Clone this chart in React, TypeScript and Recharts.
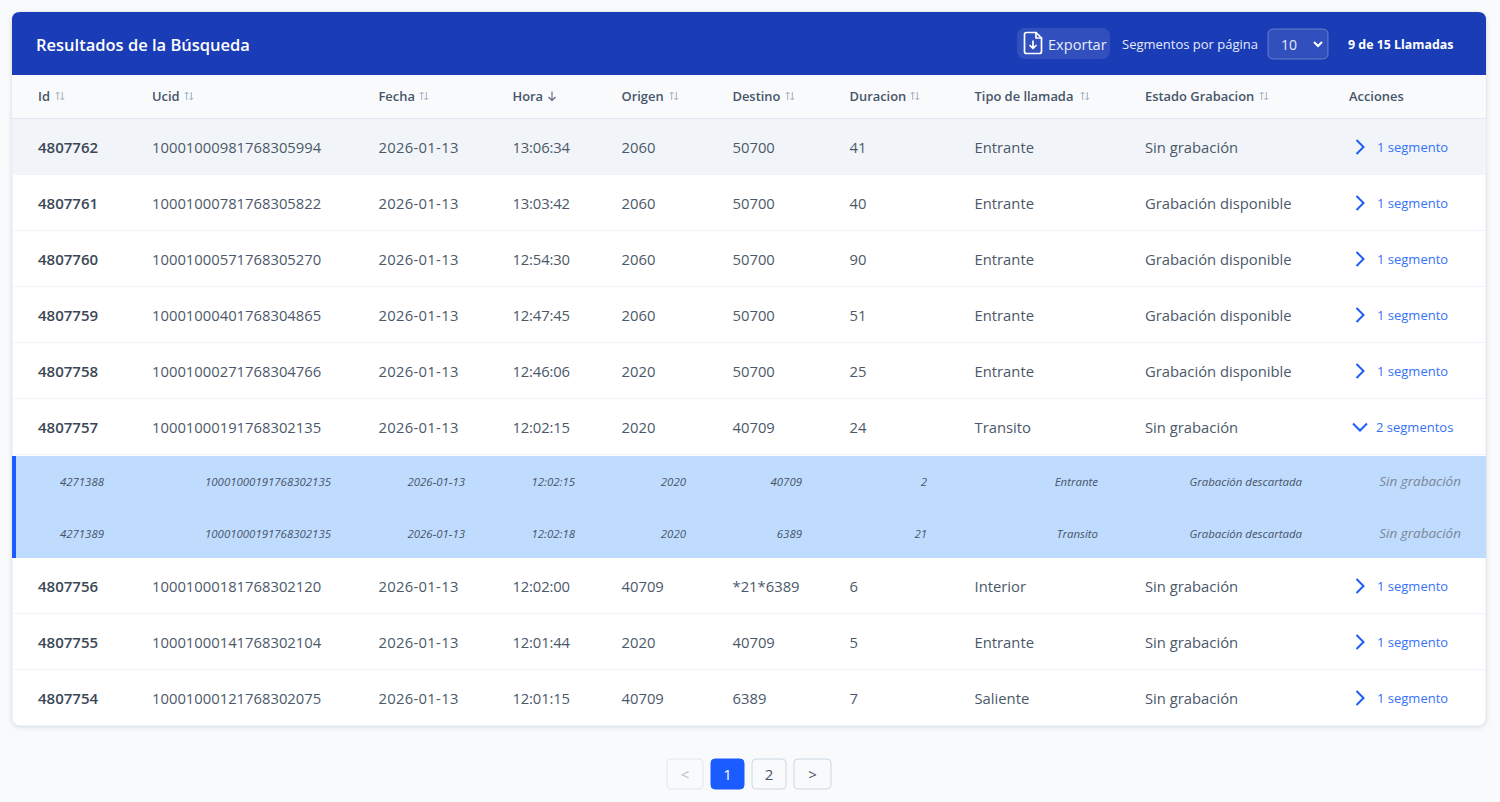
import React from "react";
import { ScatterChart, Scatter, XAxis, YAxis, ReferenceArea } from "recharts";

// ---- table content ----
const columnTitles = ["Id", "Ucid", "Fecha", "Hora", "Origen", "Destino", "Duracion", "Tipo de llamada", "Estado Grabacion", "Acciones"];
const ids = ["4807762", "4807761", "4807760", "4807759", "4807758", "4807757", "4807756", "4807755", "4807754"];
const ucids = ["10001000981768305994", "10001000781768305822", "10001000571768305270", "10001000401768304865", "10001000271768304766", "10001000191768302135", "10001000181768302120", "10001000141768302104", "10001000121768302075"];
const fechas = ["2026-01-13", "2026-01-13", "2026-01-13", "2026-01-13", "2026-01-13", "2026-01-13", "2026-01-13", "2026-01-13", "2026-01-13"];
const horas = ["13:06:34", "13:03:42", "12:54:30", "12:47:45", "12:46:06", "12:02:15", "12:02:00", "12:01:44", "12:01:15"];
const origenes = ["2060", "2060", "2060", "2060", "2020", "2020", "40709", "2020", "40709"];
const destinos = ["50700", "50700", "50700", "50700", "50700", "40709", "*21*6389", "40709", "6389"];
const duraciones = ["41", "40", "90", "51", "25", "24", "6", "5", "7"];
const tipos = ["Entrante", "Entrante", "Entrante", "Entrante", "Entrante", "Transito", "Interior", "Entrante", "Saliente"];
const estados = ["Sin grabación", "Grabación disponible", "Grabación disponible", "Grabación disponible", "Grabación disponible", "Sin grabación", "Sin grabación", "Sin grabación", "Sin grabación"];
const segmentos = ["1 segmento", "1 segmento", "1 segmento", "1 segmento", "1 segmento", "2 segmentos", "1 segmento", "1 segmento", "1 segmento"];
const subRow1 = ["4271388", "10001000191768302135", "2026-01-13", "12:02:15", "2020", "40709", "2", "Entrante", "Grabación descartada"];
const subRow2 = ["4271389", "10001000191768302135", "2026-01-13", "12:02:18", "2020", "6389", "21", "Transito", "Grabación descartada"];
const subStates = ["Sin grabación", "Sin grabación"];
const titleText = "Resultados de la Búsqueda";
const exportText = "Exportar";
const perPageText = "Segmentos por página";
const perPageValue = "10";
const countText = "9 de 15 Llamadas";
const pages = ["<", "1", "2", ">"];

// ---- layout ----
const W = 1500, H = 802;
const FONT = "'Open Sans', sans-serif";
const colX = [38, 152, 378.5, 512.5, 621.5, 732.5, 849.5, 974.5, 1145, 1349];
const sortX = [60, 189, 424, 0, 674, 790, 915, 1085, 1264];
const rowY = [147, 203, 259, 315, 371, 427, 586, 642, 698];
const subY = [481, 533];
const subEnd = [104, 331, 465, 575, 686, 802, 927, 1098, 1302];
const ruleY = [231, 287, 343, 399, 455, 614, 670];
const pageBoxes = [[667, 703], [711, 744], [752, 786], [794, 831]];

type P = { x: number; y: number; text?: string };
const column = (values: string[], x: number, ys: number[] = rowY): P[] => values.map((text, i) => ({ x, y: ys[i], text }));

const txt = (fill: string, size: number, weight: number | string = 400, anchor = "start", italic = false, spacing = 0) => (p: any) => (
  <text x={p.cx} y={p.cy} fill={fill} fontSize={size} fontWeight={weight} textAnchor={anchor} fontStyle={italic ? "italic" : "normal"} fontFamily={FONT} letterSpacing={spacing} dominantBaseline="central">{p.payload.text}</text>
);

const sortIcon = (p: any) => (
  <path transform={`translate(${p.cx},${p.cy})`} d="M-2.3 4V-4M-4.3 -2L-2.3 -4L-0.3 -2M2.3 -4V4M0.3 2L2.3 4L4.3 2" fill="none" stroke="#a3b0c2" strokeWidth={1} />
);
const sortDown = (p: any) => (
  <path transform={`translate(${p.cx},${p.cy})`} d="M0 -4.5V4.5M-3.5 1L0 4.5L3.5 1" fill="none" stroke="#5b677a" strokeWidth={1.1} />
);
const chevronRight = (p: any) => (
  <path transform={`translate(${p.cx},${p.cy})`} d="M-3.5 -7L3.5 0L-3.5 7" fill="none" stroke="#1d5cf5" strokeWidth={2} />
);
const chevronDown = (p: any) => (
  <path transform={`translate(${p.cx},${p.cy})`} d="M-7 -3.5L0 3.5L7 -3.5" fill="none" stroke="#1d5cf5" strokeWidth={2} />
);
const selectChevron = (p: any) => (
  <path transform={`translate(${p.cx},${p.cy})`} d="M-4 -2L0 2L4 -2" fill="none" stroke="#fff" strokeWidth={2} />
);
const fileIcon = (p: any) => (
  <g transform={`translate(${p.cx},${p.cy})`} fill="none" stroke="#fff" strokeWidth={1.7} strokeLinejoin="round" strokeLinecap="round">
    <path d="M3 -10.5H-6.5A2 2 0 0 0 -8.5 -8.5V8.5A2 2 0 0 0 -6.5 10.5H6.5A2 2 0 0 0 8.5 8.5V-5Z" />
    <path d="M3 -10.5V-5H8.5" />
    <path d="M0 -2V5M-3 2.5L0 5.5L3 2.5" />
  </g>
);

const roundTop = (p: any) => {
  const r = 8;
  return <path d={`M${p.x} ${p.y + p.height}V${p.y + r}Q${p.x} ${p.y} ${p.x + r} ${p.y}H${p.x + p.width - r}Q${p.x + p.width} ${p.y} ${p.x + p.width} ${p.y + r}V${p.y + p.height}Z`} fill="#1a3cb6" />;
};
const box = (fill: string, stroke: string, r: number, extra: any = {}) => (p: any) => (
  <rect x={p.x} y={p.y} width={p.width} height={p.height} rx={r} fill={fill} stroke={stroke} {...extra} />
);

const flat = { fillOpacity: 1, strokeOpacity: 0 } as const;

const plainColumns = [ucids, origenes, destinos, duraciones, tipos, estados];
const plainX = [colX[1], colX[4], colX[5], colX[6], colX[7], colX[8]];
const bodyColumns = plainColumns.flatMap((values, i) => column(values, plainX[i]));
const subPts = [subRow1, subRow2].flatMap((row, r) => row.map((text, i) => ({ x: subEnd[i], y: subY[r], text })));

export default function App() {
  return (
    <div style={{ position: "fixed", left: 0, top: 0, width: W, height: H, background: "#f8fafc" }}>
      <ScatterChart width={W} height={H} margin={{ top: 0, right: 0, bottom: 0, left: 0 }}>
        <XAxis type="number" dataKey="x" domain={[0, W]} hide />
        <YAxis type="number" dataKey="y" domain={[0, H]} reversed hide />

        <ReferenceArea x1={12} x2={1486} y1={12} y2={726} shape={box("#ffffff", "#e2e8f0", 8, { style: { filter: "drop-shadow(0 1px 2px rgba(15,23,42,0.12))" } })} />
        <ReferenceArea x1={12} x2={1486} y1={75} y2={119} fill="#f8fafc" {...flat} />
        <ReferenceArea x1={12} x2={1486} y1={118} y2={119} fill="#e2e8f0" {...flat} />
        <ReferenceArea x1={13} x2={1486} y1={119} y2={175} fill="#f1f5f9" {...flat} />
        {ruleY.map((y) => <ReferenceArea key={y} x1={13} x2={1485} y1={y - 1} y2={y} fill="#f1f5f9" {...flat} />)}
        <ReferenceArea x1={12} x2={1486} y1={456} y2={558} fill="#bfdbfe" {...flat} />
        <ReferenceArea x1={12} x2={16} y1={456} y2={558} fill="#1a5cff" {...flat} />
        <ReferenceArea x1={12} x2={1486} y1={12} y2={75} shape={roundTop} />
        <ReferenceArea x1={1017} x2={1110} y1={28} y2={59} shape={box("rgba(255,255,255,0.1)", "none", 8)} />
        <ReferenceArea x1={1268} x2={1328} y1={29} y2={59} shape={box("rgba(255,255,255,0.1)", "rgba(255,255,255,0.3)", 5)} />
        {pageBoxes.map(([a, b], i) => (
          <ReferenceArea key={i} x1={a} x2={b} y1={759} y2={789} shape={i === 1 ? box("#1a5cff", "#1a5cff", 4) : box("#f8fafc", i === 0 ? "#e2e8f0" : "#cdd8e6", 4)} />
        ))}

        <Scatter isAnimationActive={false} data={[{ x: 36, y: 44, text: titleText }]} dataKey="y" shape={txt("#ffffff", 16.5, 600)} />
        <Scatter isAnimationActive={false} data={[{ x: 1048, y: 44, text: exportText }]} dataKey="y" shape={txt("#e8edfb", 14.6)} />
        <Scatter isAnimationActive={false} data={[{ x: 1122, y: 44, text: perPageText }]} dataKey="y" shape={txt("#e6ebfa", 13)} />
        <Scatter isAnimationActive={false} data={[{ x: 1281, y: 44, text: perPageValue }]} dataKey="y" shape={txt("#e6ebfa", 14)} />
        <Scatter isAnimationActive={false} data={[{ x: 1348, y: 44, text: countText }]} dataKey="y" shape={txt("#ffffff", 12.4, 700)} />
        <Scatter isAnimationActive={false} data={[{ x: 1033, y: 43 }]} dataKey="y" shape={fileIcon} />
        <Scatter isAnimationActive={false} data={[{ x: 1318, y: 44 }]} dataKey="y" shape={selectChevron} />

        <Scatter isAnimationActive={false} data={columnTitles.map((text, i) => ({ x: colX[i], y: 96, text }))} dataKey="y" shape={txt("#475569", 12.9, 600)} />
        <Scatter isAnimationActive={false} data={sortX.filter((x) => x > 0).map((x) => ({ x, y: 96 }))} dataKey="y" shape={sortIcon} />
        <Scatter isAnimationActive={false} data={[{ x: 552, y: 96 }]} dataKey="y" shape={sortDown} />

        <Scatter isAnimationActive={false} data={column(ids, colX[0])} dataKey="y" shape={txt("#3b4757", 15, 600)} />
        <Scatter isAnimationActive={false} data={bodyColumns} dataKey="y" shape={txt("#4b5869", 14.8)} />
        <Scatter isAnimationActive={false} data={column(fechas, colX[2])} dataKey="y" shape={txt("#4b5869", 14.8, 400, "start", false, 0.3)} />
        <Scatter isAnimationActive={false} data={column(horas, colX[3])} dataKey="y" shape={txt("#4b5869", 14.8, 400, "start", false, -0.15)} />

        <Scatter isAnimationActive={false} data={subPts} dataKey="y" shape={txt("#475569", 11.45, 400, "end", true)} />
        <Scatter isAnimationActive={false} data={column(subStates, 1461, subY)} dataKey="y" shape={txt("#7b8798", 13.5, 400, "end", true)} />

        <Scatter isAnimationActive={false} data={rowY.filter((_, i) => i !== 5).map((y) => ({ x: 1360, y }))} dataKey="y" shape={chevronRight} />
        <Scatter isAnimationActive={false} data={[{ x: 1360, y: rowY[5] }]} dataKey="y" shape={chevronDown} />
        <Scatter isAnimationActive={false} data={segmentos.map((text, i) => ({ x: i === 5 ? 1376 : 1377, y: rowY[i], text }))} dataKey="y" shape={txt("#3672f6", 13)} />

        {pages.map((text, i) => (
          <Scatter key={i} isAnimationActive={false} data={[{ x: (pageBoxes[i][0] + pageBoxes[i][1]) / 2, y: 774, text }]} dataKey="y"
            shape={txt(i === 1 ? "#ffffff" : i === 0 ? "#b4bdca" : "#475569", 15, 400, "middle")} />
        ))}
      </ScatterChart>
    </div>
  );
}
